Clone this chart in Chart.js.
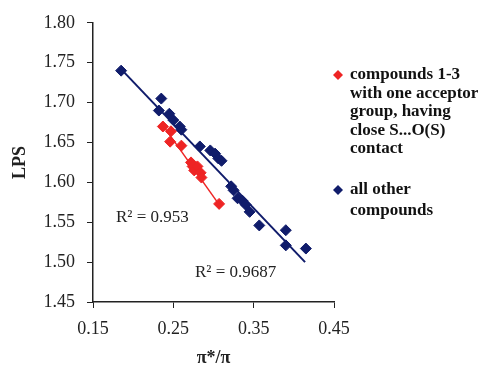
<!DOCTYPE html>
<html><head><meta charset="utf-8">
<script src="https://cdn.jsdelivr.net/npm/chart.js@4.4.0/dist/chart.umd.min.js"></script>
<style>html,body{margin:0;padding:0;background:#fff}#w{width:496px;height:369px}</style>
</head><body><div id="w"><canvas id="c" width="496" height="369"></canvas></div>
<script>
const redName = "compounds 1-3 with one acceptor group, having close S...O(S) contact";
const blueName = "all other compounds";
const redX = [0.237,0.247,0.246,0.260,0.272,0.274,0.276,0.280,0.284,0.285,0.307];
const redY = [1.670,1.664,1.651,1.646,1.625,1.620,1.615,1.620,1.612,1.606,1.573];
const blueX = [0.185,0.235,0.232,0.245,0.250,0.258,0.260,0.283,0.296,0.302,0.306,0.310,0.322,0.325,0.330,0.336,0.340,0.345,0.357,0.390,0.390,0.415];
const blueY = [1.740,1.705,1.690,1.686,1.678,1.670,1.666,1.645,1.640,1.636,1.630,1.627,1.595,1.590,1.580,1.577,1.572,1.563,1.546,1.540,1.521,1.517];
const redTrendX = [0.236,0.307];
const redTrendY = [1.673,1.572];
const blueTrendX = [0.185,0.414];
const blueTrendY = [1.742,1.500];
const yTickLabels = ["1.45","1.50","1.55","1.60","1.65","1.70","1.75","1.80"];
const xTickLabels = ["0.15","0.25","0.35","0.45"];
const redR2 = "R² = 0.953";
const blueR2 = "R² = 0.9687";
const legendLines = [["compounds 1-3","with one acceptor","group, having","close S...O(S)","contact"],["all other","compounds"]];

const RED = "#EE2424", BLUE = "#101C6B";
const serif = "'Liberation Serif','Times New Roman',serif";
const pts = (xs, ys) => xs.map((x,i)=>({x:x,y:ys[i]}));

const overlay = {
  id:'overlay',
  afterDraw(chart){
    const ctx = chart.ctx, xs = chart.scales.x, ys = chart.scales.y;
    ctx.save();
    ctx.fillStyle = '#222';
    ctx.font = "17px " + serif;
    ctx.textBaseline = 'middle';
    ctx.textAlign = 'left';
    ctx.fillText(redR2, 116, 218);
    ctx.fillText(blueR2, 195, 273);
    // legend
    const drawDia = (cx, cy, col) => {
      ctx.fillStyle = col; ctx.beginPath();
      ctx.moveTo(cx, cy-5); ctx.lineTo(cx+5, cy); ctx.lineTo(cx, cy+5); ctx.lineTo(cx-5, cy); ctx.closePath(); ctx.fill();
    };
    ctx.font = "bold 17px " + serif;
    drawDia(338, 75, RED);
    drawDia(338, 190, BLUE);
    ctx.fillStyle = '#111';
    legendLines[0].forEach((t,i)=>ctx.fillText(t, 350, 75 + i*18.5));
    legendLines[1].forEach((t,i)=>ctx.fillText(t, 350, 190 + i*21));
    ctx.restore();
  }
};

new Chart(document.getElementById('c'), {
  type:'scatter',
  data:{datasets:[
    {label:redName, data:pts(redX,redY), backgroundColor:RED, borderColor:RED, pointStyle:'rectRot', pointRadius:5.5, order:1},
    {label:blueName, data:pts(blueX,blueY), backgroundColor:BLUE, borderColor:BLUE, pointStyle:'rectRot', pointRadius:5.5, order:2},
    {label:'red trend', data:pts(redTrendX,redTrendY), type:'line', showLine:true, borderColor:RED, borderWidth:1.5, pointRadius:0, order:3},
    {label:'blue trend', data:pts(blueTrendX,blueTrendY), type:'line', showLine:true, borderColor:BLUE, borderWidth:2, pointRadius:0, order:4}
  ]},
  options:{
    responsive:false, animation:false, devicePixelRatio:1,
    layout:{padding:{left:0,top:20,right:162,bottom:0}, autoPadding:false},
    plugins:{legend:{display:false}, tooltip:{enabled:false}},
    scales:{
      x:{type:'linear', min:0.15, max:0.45,
        afterFit(s){s.height=67;},
        afterBuildTicks(s){s.ticks = xTickLabels.map(v=>({value:parseFloat(v)}));},
        ticks:{callback:(v)=>v.toFixed(2), color:'#222', font:{family:serif,size:18}, padding:10, maxRotation:0},
        grid:{display:true, drawOnChartArea:false, drawTicks:true, tickLength:6, color:'#222'},
        border:{display:true, color:'#222', width:1.5},
        title:{display:true, text:'π*/π', color:'#222', font:{family:serif,size:18,weight:'bold'}, padding:{top:0,bottom:0}}
      },
      y:{type:'linear', min:1.45, max:1.80,
        afterFit(s){s.width=93;},
        afterBuildTicks(s){s.ticks = yTickLabels.map(v=>({value:parseFloat(v)}));},
        ticks:{callback:(v)=>v.toFixed(2), color:'#222', font:{family:serif,size:18}, padding:12},
        grid:{display:true, drawOnChartArea:false, drawTicks:true, tickLength:6, color:'#222'},
        border:{display:true, color:'#222', width:1.5},
        title:{display:true, text:'LPS', color:'#222', font:{family:serif,size:18,weight:'bold'}, padding:{top:10,bottom:0}}
      }
    }
  },
  plugins:[overlay]
});
</script></body></html>
